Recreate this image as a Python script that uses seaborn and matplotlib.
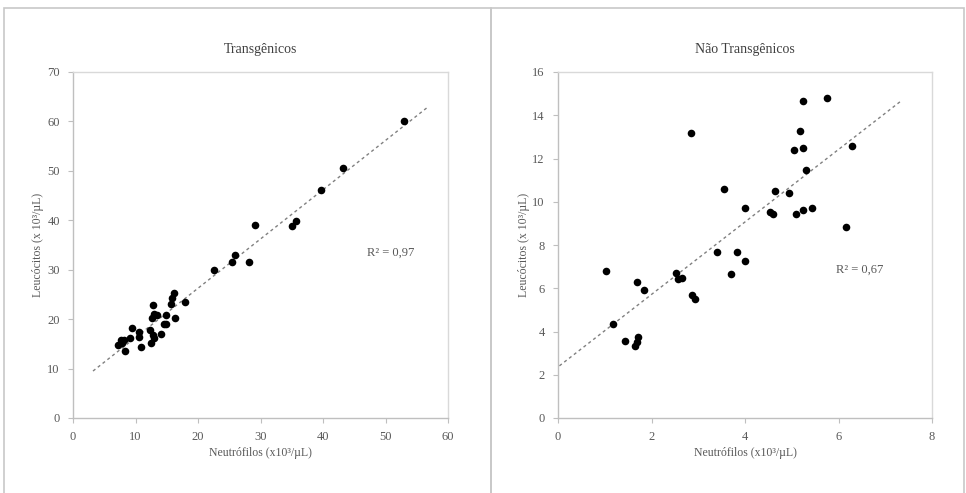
import numpy as np
import matplotlib
matplotlib.use("Agg")
import matplotlib.pyplot as plt
import seaborn as sns
from matplotlib.patches import Rectangle

# ---- data ----
# Transgênicos (left panel)
trans_neut = [52.9, 43.2, 39.7, 35.6, 35.0, 29.1, 25.9, 25.4, 28.1, 22.5,
              17.9, 16.2, 15.8, 15.7, 16.3, 12.8, 13.0, 13.4, 12.7, 14.9,
              14.5, 14.9, 14.0, 12.3, 12.8, 12.9, 12.4, 10.8, 10.6, 10.5,
              9.5, 9.1, 8.1, 7.6, 7.2, 7.8, 8.3]
trans_leuc = [60.1, 50.6, 46.1, 39.8, 38.9, 39.1, 33.0, 31.6, 31.6, 30.0,
              23.5, 25.3, 24.2, 23.1, 20.2, 22.9, 21.0, 20.8, 20.2, 20.8,
              19.1, 19.0, 16.9, 17.8, 16.8, 16.1, 15.1, 14.4, 17.3, 16.3,
              18.2, 16.1, 15.8, 15.8, 14.7, 15.1, 13.6]

# Não Transgênicos (right panel)
nao_neut = [2.84, 3.56, 3.41, 3.69, 1.02, 1.18, 1.44, 1.70, 1.83, 1.72,
            1.68, 1.65, 2.52, 2.57, 2.66, 2.86, 2.94,
            5.24, 5.75, 5.18, 5.05, 5.23, 6.29, 5.30, 4.64, 4.95, 3.99,
            4.53, 4.60, 5.10, 5.25, 5.44, 6.15, 3.83, 4.01]
nao_leuc = [13.19, 10.57, 7.66, 6.67, 6.78, 4.33, 3.55, 6.29, 5.92, 3.73,
            3.53, 3.34, 6.72, 6.41, 6.49, 5.69, 5.52,
            14.67, 14.78, 13.29, 12.39, 12.47, 12.59, 11.48, 10.50, 10.39, 9.73,
            9.54, 9.42, 9.45, 9.63, 9.70, 8.85, 7.66, 7.27]

titles = ["Transgênicos", "Não Transgênicos"]
r2_labels = ["R² = 0,97", "R² = 0,67"]
x_ticks = [[0, 10, 20, 30, 40, 50, 60], [0, 2, 4, 6, 8]]
y_ticks = [[0, 10, 20, 30, 40, 50, 60, 70], [0, 2, 4, 6, 8, 10, 12, 14, 16]]
trend_range = [(3.2, 56.9), (0.03, 7.32)]
r2_pos = [(47, 33.5), (5.95, 6.85)]

sns.set_style("white")
plt.rcParams['font.family'] = ['Liberation Serif', 'DejaVu Serif']

TXT = "#595959"
AXC = "#bfbfbf"

fig = plt.figure(figsize=(9.66, 4.93), dpi=100)
W, H = 966, 493

# panel frames
for x0, x1 in [(4, 491), (491, 964)]:
    fig.add_artist(Rectangle((x0 / W, -0.05), (x1 - x0) / W, 1.05 - 8 / H,
                             transform=fig.transFigure, fill=False,
                             edgecolor="#c8c8c8", linewidth=1.2))

ax_boxes = [(73, 448), (558, 932)]
datasets = [(trans_neut, trans_leuc), (nao_neut, nao_leuc)]

for i, ((xa, xb), (xs, ys)) in enumerate(zip(ax_boxes, datasets)):
    ax = fig.add_axes([xa / W, (H - 418) / H, (xb - xa) / W, 346 / H])
    sns.scatterplot(x=xs, y=ys, ax=ax, color="black", s=30,
                    edgecolor="black", linewidth=0, zorder=3)

    slope, icpt = np.polyfit(xs, ys, 1)
    lx = np.array(trend_range[i])
    ax.plot(lx, slope * lx + icpt, color="#808080", lw=1.0,
            ls=(0, (2.2, 2.2)), zorder=2)

    ax.set_xlim(x_ticks[i][0], x_ticks[i][-1])
    ax.set_ylim(y_ticks[i][0], y_ticks[i][-1])
    ax.set_xticks(x_ticks[i])
    ax.set_yticks(y_ticks[i])
    ax.tick_params(direction="out", length=3.5, width=0.8, color=AXC,
                   labelcolor=TXT, labelsize=9, pad=6, bottom=True, left=True)
    for side in ["left", "bottom"]:
        ax.spines[side].set_color(AXC)
        ax.spines[side].set_linewidth(1.0)
    for side in ["top", "right"]:
        ax.spines[side].set_color("#d9d9d9")
        ax.spines[side].set_linewidth(1.0)

    ax.set_title(titles[i], fontsize=10, color="#404040", pad=14)
    ax.set_xlabel("Neutrófilos (x10³/µL)", fontsize=8.5, color=TXT, labelpad=3)
    ax.set_ylabel("Leucócitos (x 10³/µL)", fontsize=8.5, color=TXT, labelpad=2)
    ax.text(r2_pos[i][0], r2_pos[i][1], r2_labels[i], fontsize=9, color=TXT,
            ha="left", va="center")

fig.savefig("out.png", dpi=100, facecolor="white")
